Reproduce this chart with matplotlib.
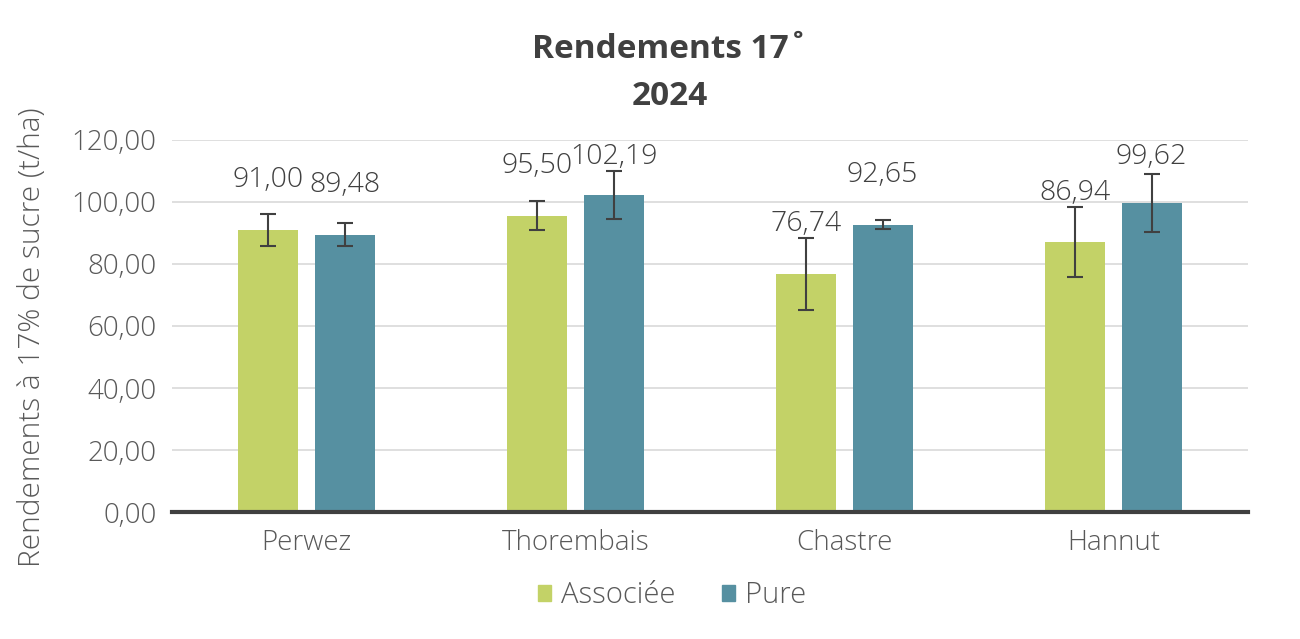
import numpy as np
import matplotlib.pyplot as plt
from matplotlib.ticker import FuncFormatter
from matplotlib.patches import Patch

plt.rcParams['font.family'] = ['Open Sans', 'DejaVu Sans']
plt.rcParams['font.weight'] = 'light'

sites = ['Perwez', 'Thorembais', 'Chastre', 'Hannut']
associee = [91.00, 95.50, 76.74, 86.94]
pure = [89.48, 102.19, 92.65, 99.62]
err_associee = [5.1, 4.7, 11.6, 11.3]
err_pure = [3.6, 7.8, 1.5, 9.3]

c_asso = '#c3d267'
c_pure = '#5690a1'
txt = '#595959'

fig = plt.figure(figsize=(13, 6.39), dpi=100)
ax = fig.add_axes([0.1323, 0.1987, 0.8277, 0.5823])

x = np.arange(len(sites))
w = 0.223
off = 0.1415
ax.bar(x - off, associee, w, color=c_asso, yerr=err_associee,
       error_kw=dict(ecolor='#404040', elinewidth=1.5, capsize=6, capthick=1.5), zorder=3)
ax.bar(x + off, pure, w, color=c_pure, yerr=err_pure,
       error_kw=dict(ecolor='#404040', elinewidth=1.5, capsize=6, capthick=1.5), zorder=3)

# value labels above the bars (capped near the top of the plot)
for xs, vals in ((x - off, associee), (x + off, pure)):
    for xi, v in zip(xs, vals):
        ax.text(xi, min(v + 16, 114.5), f'{v:.2f}'.replace('.', ','), ha='center', va='center',
                fontsize=20.5, color='#404040')

ax.set_xlim(-0.5, 3.5)
ax.set_ylim(0, 120)
ax.set_yticks(range(0, 121, 20))
ax.yaxis.set_major_formatter(FuncFormatter(lambda v, p: f'{v:.2f}'.replace('.', ',')))
ax.set_xticks(x)
ax.set_xticklabels(sites)
ax.tick_params(axis='both', length=0, labelsize=20, colors=txt)
ax.tick_params(axis='x', pad=12)
ax.tick_params(axis='y', pad=11)
ax.grid(axis='y', color='#d9d9d9', linewidth=1.2, zorder=0)
for s in ['top', 'right', 'left']:
    ax.spines[s].set_visible(False)
ax.spines['bottom'].set_color('#404040')
ax.spines['bottom'].set_linewidth(3)
ax.spines['bottom'].set_zorder(4)

fig.text(0.025, 0.472, 'Rendements à 17% de sucre (t/ha)', rotation=90, ha='center', va='center',
         fontsize=21.5, color=txt)
fig.text(0.515, 0.922, 'Rendements 17˚', ha='center', va='center', fontsize=24,
         fontweight='bold', color='#404040')
fig.text(0.515, 0.849, '2024', ha='center', va='center', fontsize=24,
         fontweight='bold', color='#404040')

handles = [Patch(color=c_asso, label='Associée'), Patch(color=c_pure, label='Pure')]
fig.legend(handles=handles, loc='center', bbox_to_anchor=(0.517, 0.068), ncol=2, frameon=False,
           fontsize=21, handlelength=0.45, handleheight=0.45, handletextpad=0.35, columnspacing=1.6,
           labelcolor=txt)

fig.savefig('out.png', dpi=100)
